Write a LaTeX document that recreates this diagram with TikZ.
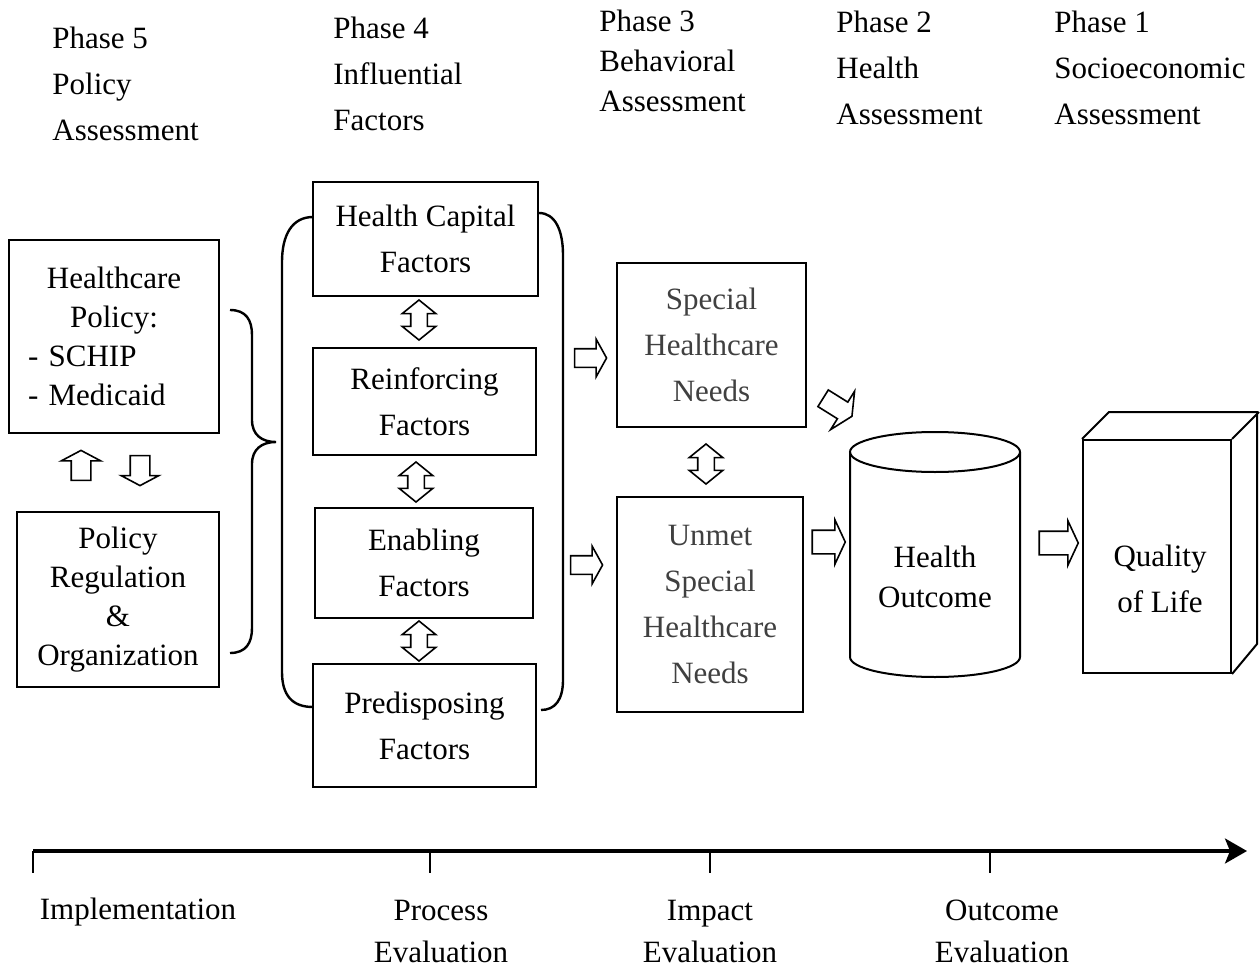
\documentclass[tikz,border=0pt]{standalone}
\usepackage{fontspec}
\setmainfont{Liberation Serif}
\usetikzlibrary{shapes.arrows,arrows.meta,positioning}
\definecolor{needgray}{RGB}{64,64,64}

\tikzset{
  every node/.style={font=\fontsize{15.5}{23}\selectfont},
  box/.style={draw, line width=1pt, align=center, inner sep=0pt},
  phase/.style={align=left, anchor=west, inner sep=0pt},
  hollow/.style={single arrow, draw, line width=0.8pt, inner xsep=0pt,
    single arrow head indent=0pt},
  twoway/.style={double arrow, draw, line width=0.8pt, inner xsep=0pt,
    double arrow head indent=0pt, double arrow tip angle=102,
    inner ysep=3.75pt, double arrow head extend=4.25pt, minimum height=20pt, rotate=90},
  bracket/.style={line width=1.2pt},
  tick/.style={line width=1pt},
}

\begin{document}
\begin{tikzpicture}[x=0.5pt,y=-0.5pt]
\useasboundingbox (0,0) rectangle (1260,969);

% phases
\node[phase] (ph5) at (52,84) {Phase 5\\Policy\\Assessment};
\node[phase] (ph4) at (333,73.5) {Phase 4\\Influential\\Factors};
\node[phase, font=\fontsize{15.5}{20}\selectfont] (ph3) at (599,60.5) {Phase 3\\Behavioral\\Assessment};
\node[phase] (ph2) at (836,67.5) {Phase 2\\Health\\Assessment};
\node[phase] (ph1) at (1054,67.5) {Phase 1\\Socioeconomic\\Assessment};

% policy
\node[box, minimum width=105pt, minimum height=96.5pt, text width=86pt, align=left,
  font=\fontsize{15.5}{19.5}\selectfont] (hcpol) at (114,336.5)
  {\makebox[86pt]{Healthcare}\\\makebox[86pt]{Policy:}\\- SCHIP\\- Medicaid};
\node[box, minimum width=101pt, minimum height=87.5pt,
  font=\fontsize{15.5}{19.5}\selectfont] (polreg) at (118,599.5)
  {Policy\\Regulation\\\&\\Organization};
\node[hollow, inner ysep=4.5pt, single arrow head extend=5pt, minimum height=15pt,
  single arrow tip angle=124, rotate=90] (up) at (81,468) {};
\node[hollow, inner ysep=4.5pt, single arrow head extend=4.5pt, minimum height=15pt,
  single arrow tip angle=124, rotate=-90] (down) at (140,468) {};
\draw[bracket] (230,310) .. controls (246,310) and (252,320) .. (252,335) -- (252,420)
  .. controls (252,435) and (262,442) .. (276,442)
  .. controls (262,442) and (252,449) .. (252,464) -- (252,628)
  .. controls (252,643) and (246,653) .. (230,653);

% factors
\node[box, minimum width=112.5pt, minimum height=57pt] (hcap) at (425.5,239) {Health Capital\\Factors};
\node[box, minimum width=111.5pt, minimum height=53.5pt] (reinf) at (424.5,401.5) {Reinforcing\\Factors};
\node[box, minimum width=109pt, minimum height=55pt] (enab) at (424,563) {Enabling\\Factors};
\node[box, minimum width=111.5pt, minimum height=61.5pt] (pred) at (424.5,725.5) {Predisposing\\Factors};
\node[twoway] (d1) at (419,320) {};
\node[twoway] (d2) at (416,482) {};
\node[twoway] (d3) at (419,641) {};
\draw[bracket] (313,217) .. controls (292,217) and (282,235) .. (282,262) -- (282,672)
  .. controls (282,695) and (292,707) .. (313,707);
\draw[bracket] (539,213) .. controls (555,213) and (563,230) .. (563,255) -- (563,680)
  .. controls (563,700) and (555,710) .. (541,710);

% needs
\node[hollow, inner ysep=4.25pt, single arrow head extend=4.75pt, minimum height=16pt,
  single arrow tip angle=122] (a1) at (588,358) {};
\node[hollow, inner ysep=4.25pt, single arrow head extend=4.75pt, minimum height=16pt,
  single arrow tip angle=122] (a2) at (584,565) {};
\node[box, minimum width=94.5pt, minimum height=82pt, text=needgray] (special) at (711.5,345)
  {Special\\Healthcare\\Needs};
\node[box, minimum width=93pt, minimum height=107.5pt, text=needgray] (unmet) at (710,604.5)
  {Unmet\\Special\\Healthcare\\Needs};
\node[twoway] (d4) at (706,464) {};

% outcome
\node[hollow, inner ysep=4.5pt, single arrow head extend=6.4pt, minimum height=17pt,
  single arrow tip angle=128, rotate=-32] (a5) at (835.5,406) {};
\node[hollow, inner ysep=5.5pt, single arrow head extend=5.25pt, minimum height=16.5pt,
  single arrow tip angle=130] (a3) at (826,542) {};
\draw[line width=1pt] (850,452) -- (850,657) arc[start angle=180, end angle=0, x radius=85, y radius=20]
  -- (1020,452);
\draw[line width=1pt] (935,452) ellipse [x radius=85, y radius=20];
\node[align=center, font=\fontsize{15.5}{20}\selectfont] (outcome) at (935,577) {Health\\Outcome};
\node[hollow, inner ysep=5.5pt, single arrow head extend=5.25pt, minimum height=19.5pt,
  single arrow tip angle=130] (a4) at (1056,543) {};
\node[box, minimum width=74pt, minimum height=116.5pt] (qol) at (1157,556.5) {};
\draw[line width=1pt] (qol.north west) -- ++(27,-27) -- ++(148,0) -- ++(0,232) -- (qol.south east);
\draw[line width=1pt] (qol.north east) -- ++(27,-27);
\node[align=center] (qoltxt) at (1160,579) {Quality\\of Life};

% time line
\coordinate (t0) at (33,851);
\coordinate (t1) at (430,851);
\coordinate (t2) at (710,851);
\coordinate (t3) at (990,851);
\coordinate (tend) at (1247,851);
\draw[line width=1.6pt, -{Stealth[length=11pt, width=12.5pt, inset=2.5pt]}] (t0) -- (tend);
\draw[tick] (t0) -- ++(0,22);
\draw[tick] (t1) -- ++(0,22);
\draw[tick] (t2) -- ++(0,22);
\draw[tick] (t3) -- ++(0,22);
\node (impl) at (138,912) {Implementation};
\node[align=center, font=\fontsize{15.5}{21}\selectfont] (proc) at (441,931) {Process\\Evaluation};
\node[align=center, font=\fontsize{15.5}{21}\selectfont] (imp) at (710,931) {Impact\\Evaluation};
\node[align=center, font=\fontsize{15.5}{21}\selectfont] (outc) at (1002,931) {Outcome\\Evaluation};
\end{tikzpicture}
\end{document}
